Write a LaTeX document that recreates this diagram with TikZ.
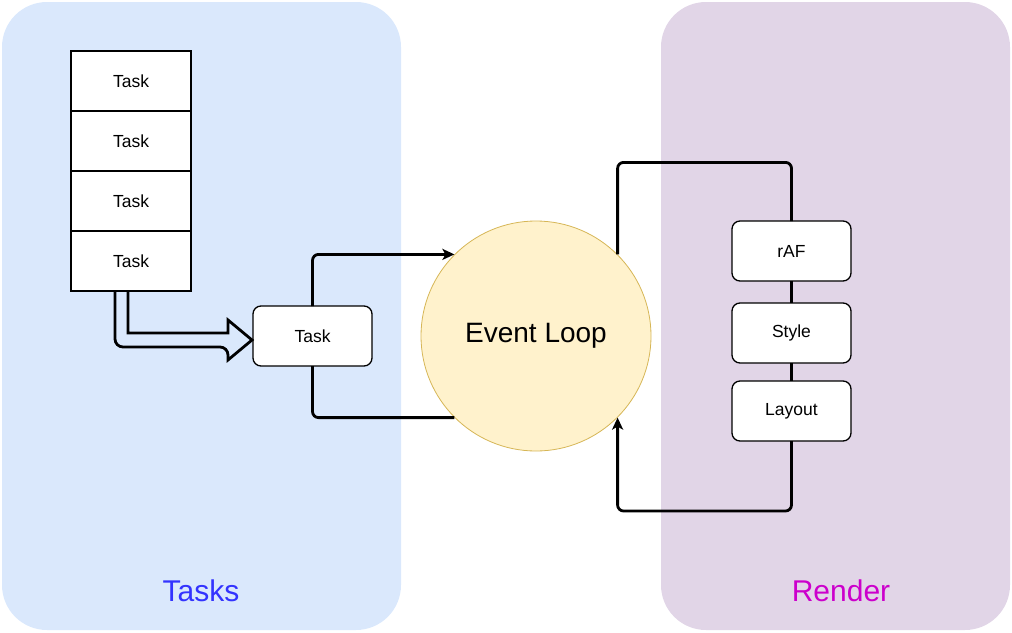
\documentclass[tikz,border=0pt]{standalone}
\usepackage{fontspec}
\setmainfont{Liberation Sans}
\usepackage{xcolor}
\usepackage{tikz}
\usetikzlibrary{arrows.meta, positioning, calc}

\definecolor{tasksbg}{HTML}{DAE8FC}
\definecolor{renderbg}{HTML}{E1D5E7}
\definecolor{loopbg}{HTML}{FFF2CC}
\definecolor{loopline}{HTML}{D6B656}
\definecolor{tasksfg}{HTML}{3333FF}
\definecolor{renderfg}{HTML}{CC00CC}

\begin{document}
\begin{tikzpicture}[x=1pt, y=-1pt]
\tikzstyle{panel} = [rectangle, rounded corners=45, minimum height=628, inner sep=0, outer sep=0]
\tikzstyle{stackbox} = [rectangle, draw, fill=white, line width=1.8, minimum width=120, minimum height=60, inner sep=0, outer sep=0, font=\fontsize{17.5}{20}\selectfont]
\tikzstyle{taskbox} = [stackbox, rounded corners=8, line width=1.3, minimum width=119]
\tikzstyle{conn} = [line width=2.8, rounded corners=6]
\tikzstyle{arr} = [conn, -{Stealth[length=12, width=11, inset=3]}]
\tikzstyle{hollow} = [line width=2.8]
\tikzstyle{biglabel} = [font=\fontsize{30}{35}\selectfont]

\useasboundingbox (0,0) rectangle (1012,632);

% the two areas
\node (tasksarea) [panel, fill=tasksbg, minimum width=399] at (201.5,316) {};
\node (renderarea) [panel, fill=renderbg, minimum width=349] at (835.5,316) {};
\node (taskslabel) [biglabel, text=tasksfg] at (201,591) {Tasks};
\node (renderlabel) [biglabel, text=renderfg] at (841,591) {Render};

% task queue
\node (t1) [stackbox] at (131,81) {Task};
\node (t2) [stackbox, below=0pt of t1] {Task};
\node (t3) [stackbox, below=0pt of t2] {Task};
\node (t4) [stackbox, below=0pt of t3] {Task};

\node (cur) [taskbox] at (312.5,336) {Task};
\node (el) [circle, draw=loopline, fill=loopbg, line width=0.8, minimum size=230, inner sep=0, font=\fontsize{28}{33}\selectfont] at (536,336) {Event Loop};

% render steps
\node (raf) [taskbox] at (791.5,251) {rAF};
\node (sty) [taskbox, below=22pt of raf] {Style};
\node (lay) [taskbox, below=18pt of sty] {Layout};

% hollow arrow from the queue
\coordinate (tip) at ($(cur.west)+(-1,4)$);
\draw[hollow, rounded corners=8] ($(t4.south)+(-16,0)$) |- ($(tip)+(-24,7)$) [sharp corners] -- ++(0,13) -- (tip) -- ++(-24,-20) -- ++(0,13) -| ($(t4.south)+(-3,0)$);

\draw[arr] (cur.north) |- (el.135);
\draw[conn] (el.225) -| (cur.south);

\draw[conn] (el.45) -- ++(0,-92) -| (raf.north);
\draw[conn] (raf) -- (sty);
\draw[conn] (sty) -- (lay);
\draw[arr] (lay.south) -- ++(0,70) -| (el.315);

\end{tikzpicture}
\end{document}
